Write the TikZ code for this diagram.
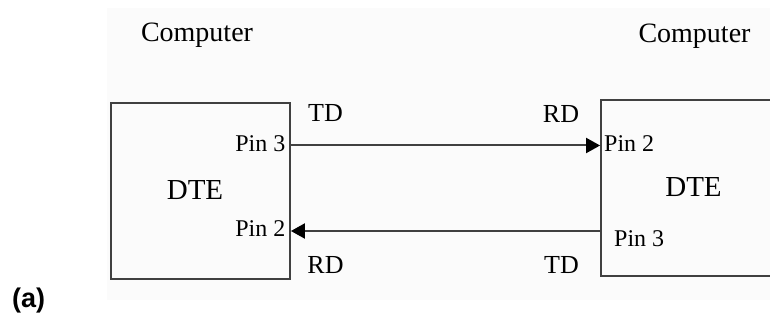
\documentclass[tikz,border=0pt]{standalone}
\usepackage{fontspec}
\setmainfont{Liberation Serif}
\newfontfamily\labelfont{Liberation Sans}
\usetikzlibrary{arrows.meta}

\begin{document}
\begin{tikzpicture}[x=1pt,y=-1pt,
   box/.style={draw=black!75,line width=1.8pt,rectangle,minimum height=176pt,inner sep=0pt},
   sig/.style={font=\fontsize{26}{26}\selectfont,inner sep=0pt},
   pin/.style={font=\fontsize{24}{24}\selectfont,inner sep=0pt},
   wire/.style={black!75,line width=2pt},
   tip/.style={-{Triangle[length=14pt,width=15pt,color=black]}}]
   \useasboundingbox (0,0) rectangle (770,320);
   \clip (0,0) rectangle (770,320);
   \fill[black!1.5] (107,8) rectangle (770,300);
   % the two computers
   \node[anchor=base,font=\fontsize{28}{28}\selectfont,inner sep=0pt] (compL) at (197,41.5) {Computer};
   \node[anchor=base,font=\fontsize{28}{28}\selectfont,inner sep=0pt] (compR) at (694.5,43) {Computer};
   \node[box,minimum width=179pt] (dteL) at (200.5,191) {};
   \node[box,minimum width=200pt] (dteR) at (701,188) {};
   \node[anchor=base,font=\fontsize{29}{29}\selectfont,inner sep=0pt] (nameL) at (195,200) {DTE};
   \node[anchor=base,font=\fontsize{29}{29}\selectfont,inner sep=0pt] (nameR) at (693.5,196.5) {DTE};
   % pins
   \node[pin,anchor=base east] (pinLthree) at (285.5,151.5) {Pin 3};
   \node[pin,anchor=base east] (pinLtwo) at (285.5,236.5) {Pin 2};
   \node[pin,anchor=base west] (pinRtwo) at (604,151.5) {Pin 2};
   \node[pin,anchor=base west] (pinRthree) at (614,246.5) {Pin 3};
   % signals
   \node[sig,anchor=base] (tdL) at (325.5,122) {TD};
   \node[sig,anchor=base] (rdL) at (325.5,273) {RD};
   \node[sig,anchor=base] (rdR) at (561,123) {RD};
   \node[sig,anchor=base] (tdR) at (561.5,273) {TD};
   \coordinate (txL) at (0,145.5);
   \coordinate (rxL) at (0,231);
   \draw[wire,tip] (dteL.east |- txL) -- (dteR.west |- txL);
   \draw[wire,tip] (dteR.west |- rxL) -- (dteL.east |- rxL);
   % caption
   \node[anchor=base west,font=\labelfont\bfseries\fontsize{27}{27}\selectfont,inner sep=0pt] (cap) at (12,307) {(a)};
\end{tikzpicture}
\end{document}
